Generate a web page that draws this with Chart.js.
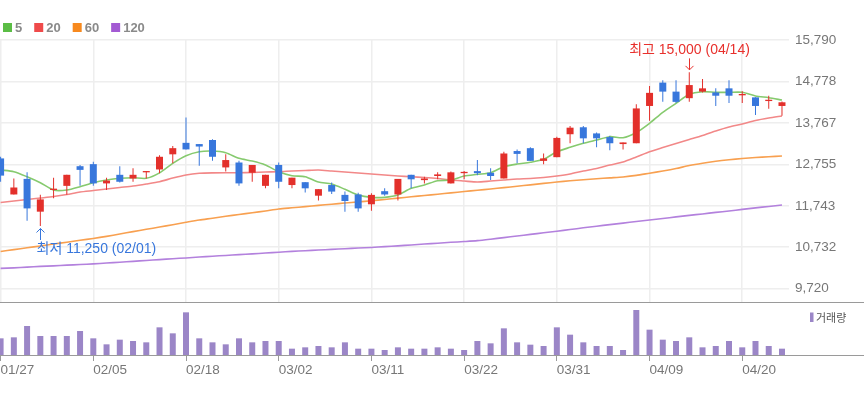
<!DOCTYPE html>
<html><head><meta charset="utf-8">
<script src="https://cdn.jsdelivr.net/npm/chart.js@4/dist/chart.umd.min.js"></script>
<style>
html,body{margin:0;padding:0;background:#fff;}
#wrap{position:relative;width:864px;height:397px;overflow:hidden;background:#fff;}
#pc{position:absolute;left:0;top:0;}
#vc{position:absolute;left:0;top:301px;}
</style></head><body>
<div id="wrap">
<canvas id="pc" width="864" height="304"></canvas>
<canvas id="vc" width="864" height="96"></canvas>
</div>
<script>
const dates = ['01/27','01/28','01/29','02/01','02/02','02/03','02/04','02/05','02/08','02/09','02/10','02/15','02/16','02/17','02/18','02/19','02/22','02/23','02/24','02/25','02/26','03/02','03/03','03/04','03/05','03/08','03/09','03/10','03/11','03/12','03/15','03/16','03/17','03/18','03/19','03/22','03/23','03/24','03/25','03/26','03/29','03/30','03/31','04/01','04/02','04/05','04/06','04/07','04/08','04/09','04/12','04/13','04/14','04/15','04/16','04/19','04/20','04/21','04/22','04/23'];
const opens  = [12900,12020,12400,11600,12130,12230,12710,12760,12290,12500,12410,12560,12630,13000,13280,13250,13350,12680,12800,12550,12230,12740,12250,12320,11990,12250,12010,12020,11780,12100,12020,12500,12370,12470,12290,12540,12590,12550,12410,13080,13150,12840,12930,13490,13660,13510,13420,13250,13270,14180,14750,14530,14370,14530,14510,14610,14440,14390,14300,14180];
const highs  = [12940,12410,12560,12010,12430,12500,12740,12820,12430,12710,12660,12590,12980,13200,13900,13250,13370,13000,12840,12740,12500,12800,12430,12320,12150,12310,12090,12060,12050,12170,12400,12500,12450,12560,12580,12590,12860,12660,13060,13120,13170,13020,13430,13690,13690,13530,13450,13290,14220,14670,14810,14810,15000,14840,14610,14810,14540,14390,14430,14290];
const lows   = [12330,12020,11380,11250,11930,12010,12230,12230,12130,12310,12330,12410,12540,12780,13120,12720,12840,12580,12230,12330,12170,12170,12170,12070,11870,12030,11600,11600,11620,11990,11870,12170,12290,12390,12290,12390,12490,12370,12410,12780,12840,12760,12930,13270,13270,13170,13100,13120,13270,13820,14280,14250,14280,14510,14180,14250,14250,13960,14110,13940];
const closes = [12480,12190,11680,11900,12160,12500,12620,12290,12360,12330,12500,12590,12940,13150,13120,13190,12940,12860,12290,12740,12500,12330,12430,12170,12150,12090,11860,11680,12010,12020,12400,12390,12410,12510,12560,12570,12540,12470,13020,13010,12840,12900,13400,13650,13390,13390,13270,13290,14120,14500,14530,14280,14690,14610,14430,14430,14470,14180,14330,14270];
const volumes = [50000,53000,87000,57000,57000,57000,72000,50000,32000,46000,42000,38000,83000,65000,128000,50000,38000,32000,50000,38000,42000,42000,19000,23000,27000,23000,38000,19000,19000,15000,23000,19000,19000,23000,19000,15000,42000,35000,80000,38000,31000,27000,83000,61000,38000,27000,27000,15000,135000,76000,46000,42000,53000,23000,27000,42000,23000,42000,27000,19000];
const ma5   = [12617,12575,12453,12307,12128,12128,12209,12307,12373,12414,12429,12414,12548,12780,12966,13063,13080,13039,12902,12836,12739,12575,12478,12453,12324,12275,12146,12006,11950,11950,12006,12170,12251,12356,12373,12470,12512,12551,12697,12763,12805,12878,13063,13171,13268,13349,13430,13405,13532,13757,14025,14245,14465,14528,14513,14513,14513,14423,14382,14325];
const ma20  = [11823,11860,11897,11933,11970,12019,12080,12116,12153,12190,12226,12275,12331,12421,12495,12536,12548,12551,12551,12556,12568,12575,12592,12605,12617,12592,12568,12543,12519,12495,12470,12453,12434,12409,12373,12348,12324,12348,12373,12397,12409,12434,12470,12519,12592,12653,12739,12812,12934,13063,13166,13264,13361,13459,13569,13666,13740,13825,13886,13935];
const ma60  = [10627,10674,10718,10762,10810,10854,10901,10947,10998,11054,11113,11169,11225,11281,11340,11396,11440,11487,11530,11574,11618,11665,11694,11723,11753,11782,11811,11838,11867,11897,11931,11963,11994,12026,12058,12092,12124,12153,12187,12221,12255,12290,12324,12353,12380,12404,12426,12448,12485,12539,12592,12653,12727,12783,12829,12866,12897,12922,12941,12958];
const ma120 = [10215,10229,10246,10264,10278,10295,10310,10327,10347,10366,10388,10410,10430,10452,10471,10493,10513,10532,10552,10571,10591,10610,10630,10647,10664,10679,10696,10713,10727,10747,10766,10788,10810,10830,10852,10871,10893,10928,10967,11006,11045,11084,11123,11164,11206,11245,11284,11321,11360,11396,11435,11472,11509,11545,11582,11618,11655,11692,11728,11762];
const priceTicks = [9720,10732,11743,12755,13767,14778,15790];
const xTickLabels = ['01/27','02/05','02/18','03/02','03/11','03/22','03/31','04/09','04/20'];
const maNames = ['5','20','60','120'];
const volumeName = '거래량';

const UP = '#e3302b', DOWN = '#3877dc';
const idx = dates.map((d, i) => i);
const candleColor = closes.map((c, i) => c >= opens[i] ? UP : DOWN);
const xTickIdx = xTickLabels.map(l => dates.indexOf(l));
const fmt = v => String(Math.round(v)).replace(/\B(?=(\d{3})+(?!\d))/g, ',');
const FONT = "'Liberation Sans', Arial, sans-serif";
const KFONT = "'Liberation Sans', 'Noto Sans CJK KR', sans-serif";
const X_MIN = -0.045, X_MAX = 59.53;

function xScale(extra) {
  return Object.assign({
    type: 'linear', min: X_MIN, max: X_MAX, offset: false, bounds: 'data',
    afterBuildTicks: s => { s.ticks = xTickIdx.map(v => ({ value: v })); }
  }, extra);
}

const legendPlugin = {
  id: 'maLegend',
  afterDraw(chart) {
    const ctx = chart.ctx;
    ctx.save();
    ctx.font = 'bold 13px ' + FONT;
    ctx.textBaseline = 'middle';
    ctx.textAlign = 'left';
    let x = 3; const yc = 27.5;
    chart.data.datasets.forEach(ds => {
      if (!ds.legendColor) return;
      ctx.fillStyle = ds.legendColor;
      ctx.fillRect(x, yc - 4.5, 9, 9);
      ctx.fillStyle = '#8a8a8a';
      ctx.fillText(ds.label, x + 12, yc + 0.5);
      x += 12 + ctx.measureText(ds.label).width + 12;
    });
    ctx.restore();
  }
};

function arrow(ctx, x, tipY, tailY) {
  const d = tailY > tipY ? 1 : -1;
  ctx.beginPath();
  ctx.moveTo(x, tailY); ctx.lineTo(x, tipY);
  ctx.moveTo(x - 4, tipY + 4 * d); ctx.lineTo(x, tipY); ctx.lineTo(x + 4, tipY + 4 * d);
  ctx.stroke();
}

const annotPlugin = {
  id: 'hiLo',
  afterDatasetsDraw(chart) {
    const { ctx, scales: { x, y } } = chart;
    const hi = Math.max(...highs), hiI = highs.indexOf(hi);
    const lo = Math.min(...lows), loI = lows.indexOf(lo);
    ctx.save();
    ctx.font = '14px ' + KFONT;
    ctx.textBaseline = 'middle';
    ctx.lineWidth = 1;
    // high
    let px = Math.round(x.getPixelForValue(hiI)) + 0.5, py = y.getPixelForValue(hi);
    ctx.strokeStyle = ctx.fillStyle = '#e8302c';
    arrow(ctx, px, py - 2.5, py - 14);
    ctx.textAlign = 'center';
    ctx.fillText('최고 ' + fmt(hi) + ' (' + dates[hiI] + ')', px, py - 22.5);
    // low
    px = Math.round(x.getPixelForValue(loI)) + 0.5; py = y.getPixelForValue(lo);
    ctx.strokeStyle = ctx.fillStyle = '#3877dc';
    arrow(ctx, px, py + 2.5, py + 14);
    const t = '최저 ' + fmt(lo) + ' (' + dates[loI] + ')';
    const w = ctx.measureText(t).width;
    if (px - w / 2 < 0) { ctx.textAlign = 'left'; ctx.fillText(t, px - 4, py + 23); }
    else { ctx.textAlign = 'center'; ctx.fillText(t, px, py + 23); }
    ctx.restore();
  }
};

new Chart(document.getElementById('pc'), {
  type: 'line',
  data: {
    labels: idx,
    datasets: [
      { type: 'bar', label: 'wick', data: lows.map((l, i) => [l, highs[i]]), backgroundColor: candleColor, grouped: false, maxBarThickness: 1, minBarLength: 1, order: 0 },
      { type: 'bar', label: 'body', data: opens.map((o, i) => [o, closes[i]]), backgroundColor: candleColor, grouped: false, maxBarThickness: 7, minBarLength: 1.3, order: 0 },
      { label: maNames[0], data: ma5, borderColor: '#86ca6e', legendColor: '#5bbd45', borderWidth: 1.6, pointRadius: 0, tension: 0.25, order: 1 },
      { label: maNames[1], data: ma20, borderColor: '#f28888', legendColor: '#ef4a4a', borderWidth: 1.6, pointRadius: 0, tension: 0.25, order: 2 },
      { label: maNames[2], data: ma60, borderColor: '#f8a050', legendColor: '#f7891e', borderWidth: 1.6, pointRadius: 0, tension: 0.25, order: 3 },
      { label: maNames[3], data: ma120, borderColor: '#b381dd', legendColor: '#a35ad3', borderWidth: 1.6, pointRadius: 0, tension: 0.25, order: 4 }
    ]
  },
  options: {
    responsive: false, animation: false,
    layout: { padding: { top: 40, left: 0, right: 0, bottom: 2 } },
    plugins: { legend: { display: false }, tooltip: { enabled: false } },
    scales: {
      x: xScale({
        ticks: { display: false },
        grid: { color: '#eeeeee', lineWidth: 1.5, drawTicks: false, offset: false },
        border: { display: false },
        afterFit: s => { s.height = 0; s.paddingLeft = 0; s.paddingRight = 0; }
      }),
      y: {
        position: 'right', min: 9395.4, max: 15790, bounds: 'data',
        afterBuildTicks: s => { s.ticks = priceTicks.map(v => ({ value: v })); },
        afterFit: s => { s.width = 75; s.paddingTop = 0; s.paddingBottom = 0; },
        ticks: { padding: 6, color: '#777', font: { family: FONT, size: 13.5 }, callback: v => fmt(v) },
        grid: { color: '#eeeeee', lineWidth: 1.5, drawTicks: false },
        border: { display: false }
      }
    }
  },
  plugins: [legendPlugin, annotPlugin]
});

const volPlugin = {
  id: 'volDeco',
  afterDraw(chart) {
    const ctx = chart.ctx, W = chart.width, ca = chart.chartArea;
    ctx.save();
    ctx.strokeStyle = '#9a9a9a'; ctx.lineWidth = 1;
    ctx.beginPath();
    ctx.moveTo(0, 1.5); ctx.lineTo(W, 1.5);
    ctx.moveTo(0, Math.round(ca.bottom) + 0.5); ctx.lineTo(W, Math.round(ca.bottom) + 0.5);
    ctx.stroke();
    ctx.fillStyle = chart.data.datasets[0].backgroundColor;
    ctx.fillRect(810, 11.5, 3.5, 9.5);
    ctx.fillStyle = '#555';
    ctx.font = "11px 'Noto Sans CJK KR', sans-serif";
    ctx.textBaseline = 'middle'; ctx.textAlign = 'left';
    ctx.fillText(chart.data.datasets[0].label, 816, 16.5);
    ctx.restore();
  }
};

new Chart(document.getElementById('vc'), {
  type: 'bar',
  data: {
    labels: idx,
    datasets: [{ label: volumeName, data: volumes, backgroundColor: '#9b86c7', maxBarThickness: 6, grouped: false }]
  },
  options: {
    responsive: false, animation: false,
    layout: { padding: { top: 1, left: 0, right: 75, bottom: 0 } },
    plugins: { legend: { display: false }, tooltip: { enabled: false } },
    scales: {
      x: xScale({
        grid: { display: true, drawOnChartArea: false, drawTicks: true, tickLength: 6, color: '#9a9a9a', offset: false },
        border: { display: false },
        ticks: { align: 'start', padding: 1, color: '#777', font: { family: FONT, size: 13.5 }, maxRotation: 0, autoSkip: false, callback: v => dates[v] },
        afterFit: s => { s.height = 42; s.paddingLeft = 0; s.paddingRight = 0; }
      }),
      y: { display: false, min: 0, max: 159000 }
    }
  },
  plugins: [volPlugin]
});
</script>
</body></html>
